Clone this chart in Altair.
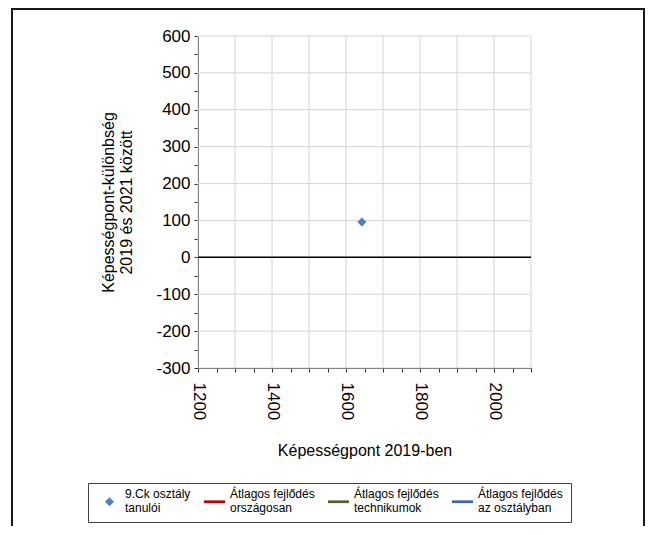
import altair as alt
import pandas as pd

# ---- data ----
series_names = [
    "9.Ck osztály\ntanulói",
    "Átlagos fejlődés\nországosan",
    "Átlagos fejlődés\ntechnikumok",
    "Átlagos fejlődés\naz osztályban",
]
series_colors = ["#4f81bd", "#c00000", "#4f6228", "#3a64aa"]
series_shapes = [
    "M0,-0.43L0.43,0L0,0.43L-0.43,0Z",
    "M-1,-0.13H1V0.13H-1Z",
    "M-1,-0.13H1V0.13H-1Z",
    "M-1,-0.13H1V0.13H-1Z",
]
student_x = [1643]
student_y = [96]

x_grid = list(range(1200, 2101, 100))
y_grid = list(range(-300, 601, 100))
x_ticks = list(range(1200, 2101, 50))
y_ticks = list(range(-300, 601, 50))

FONT = "Liberation Sans"

points = pd.DataFrame({"x": student_x, "y": student_y, "series": [series_names[0]] * len(student_x)})
xg = pd.DataFrame({"v": x_grid})
yg = pd.DataFrame({"v": y_grid})
zero = pd.DataFrame({"v": [0]})
one = pd.DataFrame({"d": [0]})

xscale = alt.Scale(domain=[1200, 2100], nice=False, zero=False)
yscale = alt.Scale(domain=[-300, 600], nice=False, zero=False)

x_axis = alt.Axis(
    values=x_ticks, grid=False, title="Képességpont 2019-ben",
    labelExpr="datum.value % 200 === 0 ? '' + datum.value : ''",
    labelAngle=90, labelAlign="left", labelBaseline="middle",
    labelFontSize=17, labelFont=FONT, labelColor="black", labelPadding=10,
    labelOverlap=False,
    tickSize=4, tickColor="#333333", domainColor="#333333",
    titleFontSize=16, titleFont=FONT, titleFontWeight="normal", titleColor="black",
    titlePadding=23,
)
y_axis = alt.Axis(
    values=y_ticks, grid=False,
    title=["Képességpont-különbség", "2019 és 2021 között"],
    labelExpr="datum.value % 100 === 0 ? '' + datum.value : ''",
    labelFontSize=17, labelFont=FONT, labelColor="black", labelPadding=4,
    labelOverlap=False,
    tickSize=4, tickColor="#333333", domainColor="#333333",
    titleFontSize=16, titleFont=FONT, titleFontWeight="normal", titleColor="black",
    titleLineHeight=18, titlePadding=21,
)

legend = alt.Legend(
    orient="none", legendX=-110, legendY=447,
    direction="horizontal", columns=4, title=None,
    labelExpr="split(datum.label, '\\n')",
    labelBaseline="line-bottom",
    symbolSize=441, symbolStrokeWidth=0, symbolOpacity=1, symbolOffset=3,
    labelFontSize=12, labelFont=FONT, labelColor="black", labelLimit=300,
    strokeColor="#404040", fillColor="white", padding=8,
    columnPadding=10, labelOffset=5,
)

vgrid = alt.Chart(xg).mark_rule(color="#d4d4d4", strokeWidth=1).encode(
    x=alt.X("v:Q", scale=xscale, axis=x_axis)
)
hgrid = alt.Chart(yg).mark_rule(color="#d4d4d4", strokeWidth=1).encode(
    y=alt.Y("v:Q", scale=yscale, axis=y_axis)
)
zline = alt.Chart(zero).mark_rule(color="black", strokeWidth=1.5).encode(
    y=alt.Y("v:Q", scale=yscale, axis=y_axis)
)
pts = alt.Chart(points).mark_point(filled=True, size=441, opacity=1).encode(
    x=alt.X("x:Q", scale=xscale, axis=x_axis),
    y=alt.Y("y:Q", scale=yscale, axis=y_axis),
    color=alt.Color("series:N", scale=alt.Scale(domain=series_names, range=series_colors), legend=legend),
    shape=alt.Shape("series:N", scale=alt.Scale(domain=series_names, range=series_shapes), legend=legend),
)

frame_color = "#1a1a1a"
frame_top = alt.Chart(one).mark_rule(color=frame_color, strokeWidth=2).encode(
    x=alt.value(-186), x2=alt.value(446), y=alt.value(-27)
)
frame_left = alt.Chart(one).mark_rule(color=frame_color, strokeWidth=2).encode(
    x=alt.value(-186), y=alt.value(-28), y2=alt.value(510)
)
frame_right = alt.Chart(one).mark_rule(color=frame_color, strokeWidth=2).encode(
    x=alt.value(446), y=alt.value(-28), y2=alt.value(510)
)

chart = alt.layer(vgrid, hgrid, zline, pts, frame_top, frame_left, frame_right).properties(
    width=333, height=332,
    autosize=alt.AutoSizeParams(type="none"),
    padding={"left": 190, "top": 28, "right": 114, "bottom": 158},
    background="white",
).configure_view(stroke="transparent").configure_axis(labelOverlap=False)

chart.save("out.html", embed_options={"renderer": "svg", "actions": False})
